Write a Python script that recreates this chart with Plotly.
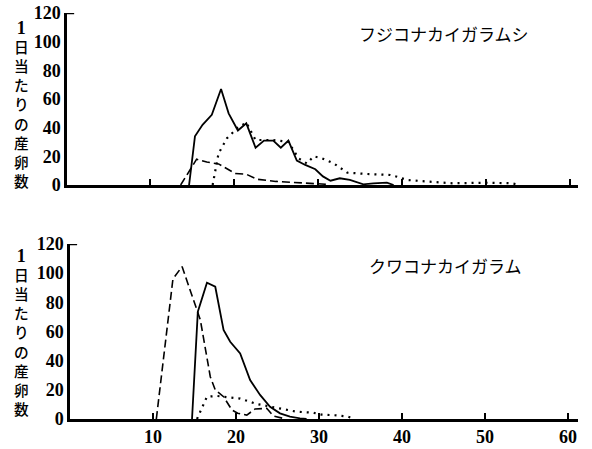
import plotly.graph_objects as go

# ---------------- data ----------------
# Top panel: フジコナカイガラムシ
top_solid_x = [14.7, 15.4, 16.3, 17.4, 18.5, 19.4, 20.5, 21.5, 22.6, 23.6, 24.7, 25.6, 26.5,
               27.5, 28.5, 29.7, 30.6, 31.5, 32.6, 33.8, 35.4, 36.6, 38.2, 39.0]
top_solid_y = [0, 34, 42, 49, 67, 50, 38, 43, 26, 31, 31, 26, 31,
               17, 14, 11, 6, 3, 4.7, 3.5, 0.5, 1.2, 1.6, 0]
top_dash_x = [13.7, 14.6, 15.6, 16.8, 18.2, 19.0, 20.2, 21.5, 22.8, 25.0, 28.0, 31.0]
top_dash_y = [0, 9, 18, 16, 14.7, 12, 8, 7.5, 4, 2.5, 1.5, 0.5]
top_dot_x = [17.5, 18.2, 19.2, 20.4, 21.5, 22.6, 24.7, 26.5, 27.7, 28.7, 29.5, 30.5, 31.9,
             33.5, 35.8, 38.6, 39.4, 40.6, 43.3, 46.0, 50.0, 53.0, 54.0]
top_dot_y = [0, 22, 32.6, 39.6, 43.5, 31.4, 31.4, 30, 18.6, 15, 20, 18.6, 15,
             8.6, 7.7, 7, 5.8, 3.5, 2.3, 1.2, 1.6, 1.2, 0]

# Bottom panel: クワコナカイガラム
bot_solid_x = [14.7, 15.4, 16.5, 17.5, 18.5, 19.3, 20.5, 21.7, 22.9, 24.1, 25.3, 26.5, 27.7, 28.5]
bot_solid_y = [0, 73.6, 93.5, 90.7, 61, 53, 45, 26.7, 16.5, 8.4, 3.9, 1.6, 0.5, 0]
bot_dash_x = [10.4, 12.4, 13.5, 14.7, 15.7, 16.9, 17.5, 18.5, 19.5, 20.2, 21.3, 22.3, 23.7, 24.5, 26.0]
bot_dash_y = [0, 96, 104.5, 84, 68, 29, 20, 15.3, 6.2, 4, 2.7, 6.9, 7.3, 2, 0]
bot_dot_x = [15.3, 16.5, 17.7, 19.0, 20.5, 22.5, 24.1, 25.5, 27.3, 29.3, 30.3, 32.1, 33.5, 34.3]
bot_dot_y = [0, 15.3, 15.8, 15, 14, 10.3, 8.4, 7, 5, 4.3, 3, 2.5, 1.6, 0]

x_tick_vals = [10, 20, 30, 40, 50, 60]
y_tick_vals = [0, 20, 40, 60, 80, 100, 120]
y_title = "1日当たりの産卵数"
top_name = "フジコナカイガラムシ"
bot_name = "クワコナカイガラム"

W, H = 592, 449

fig = go.Figure()

DASH = "8px,4px"
DOT = "2px,5px"

def add_series(xs, ys, dash, width, xa, ya):
    fig.add_trace(go.Scatter(x=xs, y=ys, mode="lines", xaxis=xa, yaxis=ya,
                             line=dict(color="black", width=width, dash=dash),
                             showlegend=False, hoverinfo="skip"))

add_series(top_dash_x, top_dash_y, DASH, 1.6, "x", "y")
add_series(top_dot_x, top_dot_y, DOT, 2.2, "x", "y")
add_series(top_solid_x, top_solid_y, "solid", 1.8, "x", "y")
add_series(bot_dash_x, bot_dash_y, DASH, 1.6, "x2", "y2")
add_series(bot_dot_x, bot_dot_y, DOT, 2.2, "x2", "y2")
add_series(bot_solid_x, bot_solid_y, "solid", 1.8, "x2", "y2")

tickfont = dict(family="Liberation Serif", size=18, color="black", weight="bold")

def px_x(p):
    return p / W

def px_y(p):
    return (H - p) / H

xcommon = dict(showgrid=False, zeroline=False, showline=True, linecolor="black", linewidth=2.5,
               ticks="inside", ticklen=6, tickwidth=2, tickcolor="black",
               tickvals=x_tick_vals, tickfont=tickfont, automargin=False)
ycommon = dict(showgrid=False, zeroline=False, showline=True, linecolor="black", linewidth=2.5,
               ticks="", tickvals=y_tick_vals, tickfont=tickfont, range=[0, 120],
               automargin=False)

fig.update_layout(
    width=W, height=H, margin=dict(l=0, r=0, t=0, b=0, autoexpand=False),
    paper_bgcolor="white", plot_bgcolor="white",
    xaxis=dict(**xcommon, domain=[px_x(67), px_x(578)], range=[0.2, 60.9],
               showticklabels=False, anchor="y"),
    yaxis=dict(**ycommon, domain=[px_y(185), px_y(13)], anchor="x"),
    xaxis2=dict(**xcommon, domain=[px_x(70), px_x(578)], range=[0, 61.2], anchor="y2"),
    yaxis2=dict(**ycommon, domain=[px_y(419), px_y(244)], anchor="x2"),
)

# small inward tick at the top of each y axis
for xd, yr in (("x domain", "y"), ("x2 domain", "y2")):
    fig.add_shape(type="line", xref=xd, yref=yr, x0=0, x1=0.014, y0=120, y1=120,
                  line=dict(color="black", width=2.5))

# vertical y-axis titles (one stacked text per panel)
chars = []
for ch in y_title:
    if ch.isdigit():
        chars.append("<span style='font-family:Liberation Serif;font-weight:bold;font-size:18px'>"
                     + ch + "</span>")
    else:
        chars.append(ch)
stacked = "<br>".join(chars)
for center_px in (105, 333):
    fig.add_annotation(text=stacked, xref="paper", yref="paper",
                       x=px_x(21), y=px_y(center_px), showarrow=False,
                       xanchor="center", yanchor="middle", align="center",
                       font=dict(family="Noto Sans CJK JP", size=14.7, color="black", weight=500))

fig.add_annotation(text=top_name, xref="paper", yref="paper", x=px_x(444), y=px_y(33),
                   showarrow=False, xanchor="center", yanchor="middle",
                   font=dict(family="Noto Sans CJK JP", size=17, color="black"))
fig.add_annotation(text=bot_name, xref="paper", yref="paper", x=px_x(445), y=px_y(265),
                   showarrow=False, xanchor="center", yanchor="middle",
                   font=dict(family="Noto Sans CJK JP", size=17, color="black"))

fig.write_html("out.html", config={"displayModeBar": False},
               post_script="document.body.style.margin='0';document.body.style.overflow='hidden';")
